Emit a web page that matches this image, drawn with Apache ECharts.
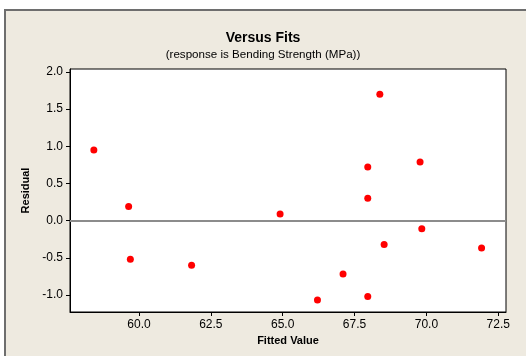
<!DOCTYPE html>
<html>
<head>
<meta charset="utf-8">
<title>Versus Fits</title>
<script src="https://cdn.jsdelivr.net/npm/echarts@6/dist/echarts.min.js"></script>
<style>
    html, body { margin: 0; padding: 0; background: #fff; }
    #versusFits { width: 526px; height: 356px; }
</style>
</head>
<body>
<div id="versusFits"></div>
<script>
// 拟合值 / 残差
var fittedValue = [58.43, 59.64, 59.70, 61.83, 64.91, 66.21, 67.10, 67.96, 67.96, 67.96, 68.38, 68.53, 69.78, 69.84, 71.92];
var residual = [0.95, 0.19, -0.52, -0.60, 0.09, -1.07, -0.72, 0.72, 0.30, -1.02, 1.70, -0.32, 0.79, -0.11, -0.37];

// 刻度
var xTicks = [60, 62.5, 65, 67.5, 70, 72.5];
var yTicks = [-1, -0.5, 0, 0.5, 1, 1.5, 2];

initChart()

function initChart() {
    var myChart = echarts.init(document.getElementById('versusFits'));
    var points = [];
    for (var i = 0; i < fittedValue.length; i++) {
        points.push([fittedValue[i], residual[i]]);
    }
    var fontFamily = '"Liberation Sans", Arial, sans-serif';

    var option = {
        animation: false,
        backgroundColor: '#fff',
        graphic: [{
            type: 'rect',
            z: -10,
            shape: { x: 5, y: 10, width: 540, height: 360 },
            style: { fill: '#EEEAE0', stroke: '#6e6e6e', lineWidth: 2 }
        }],
        title: {
            text: 'Versus Fits',
            subtext: '(response is Bending Strength (MPa))',
            left: 'center',
            top: 26,
            itemGap: 4,
            textStyle: { fontFamily: fontFamily, fontSize: 14, fontWeight: 'bold', color: '#000' },
            subtextStyle: { fontFamily: fontFamily, fontSize: 11.6, color: '#000' }
        },
        grid: {
            left: 70,
            top: 69,
            right: 20,
            bottom: 44,
            show: true,
            backgroundColor: '#fff',
            borderColor: '#000',
            borderWidth: 1
        },
        xAxis: {
            type: 'value',
            min: 57.6,
            max: 72.77,
            name: 'Fitted Value',
            nameLocation: 'middle',
            nameGap: 22,
            nameTextStyle: { fontFamily: fontFamily, fontSize: 11, fontWeight: 'bold', color: '#000' },
            splitLine: { show: false },
            axisLine: { show: true, onZero: false, lineStyle: { color: '#000' } },
            axisTick: { show: true, length: 4, customValues: xTicks, lineStyle: { color: '#000' } },
            axisLabel: {
                customValues: xTicks,
                margin: 7,
                fontFamily: fontFamily,
                fontSize: 12,
                color: '#000',
                formatter: function(v) { return v.toFixed(1); }
            }
        },
        yAxis: {
            type: 'value',
            min: -1.23,
            max: 2.04,
            name: 'Residual',
            nameLocation: 'middle',
            nameGap: 33,
            nameTextStyle: { fontFamily: fontFamily, fontSize: 11, fontWeight: 'bold', color: '#000' },
            splitLine: { show: false },
            axisLine: { show: true, onZero: false, lineStyle: { color: '#000' } },
            axisTick: { show: true, length: 4, customValues: yTicks, lineStyle: { color: '#000' } },
            axisLabel: {
                customValues: yTicks,
                margin: 7,
                fontFamily: fontFamily,
                fontSize: 12,
                color: '#000',
                formatter: function(v) { return v.toFixed(1); }
            }
        },
        series: [{
            type: 'scatter',
            data: points,
            symbol: 'circle',
            symbolSize: 7,
            itemStyle: { color: '#ff0000', opacity: 1 },
            markLine: {
                silent: true,
                symbol: 'none',
                label: { show: false },
                lineStyle: { color: '#8c8c8c', width: 2, type: 'solid', opacity: 1 },
                data: [{ yAxis: 0 }]
            },
            z: 3
        }]
    };

    // 使用刚指定的配置项和数据显示图表。
    myChart.setOption(option);
}
</script>
</body>
</html>
